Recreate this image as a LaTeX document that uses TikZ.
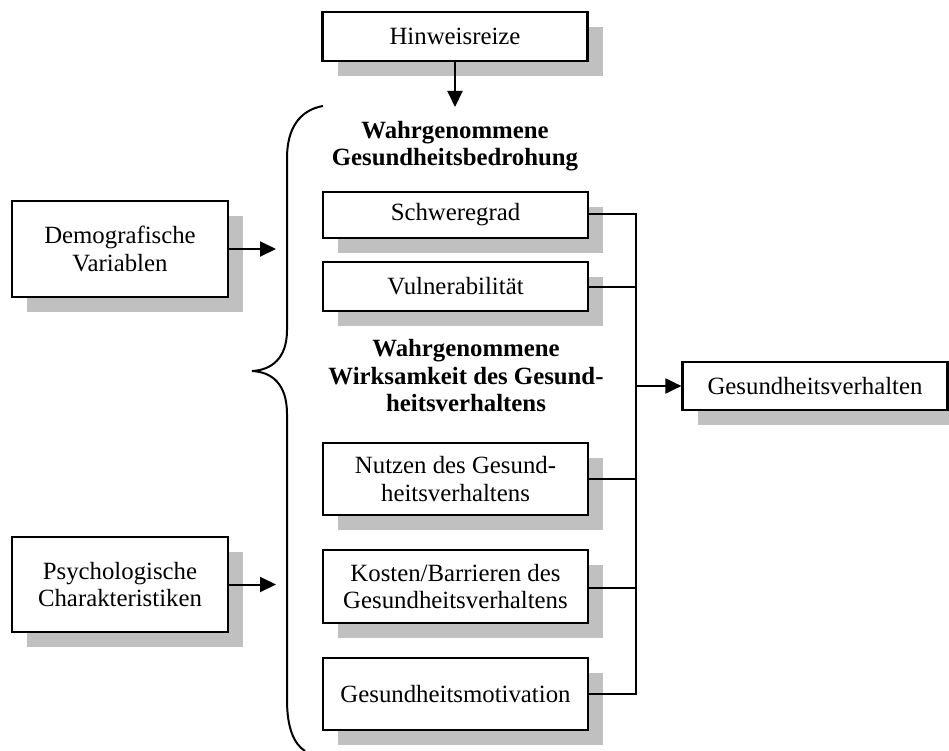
\documentclass[tikz,border=0pt]{standalone}
\usepackage{fontspec}
\setmainfont{Liberation Serif}
\usetikzlibrary{shadows,arrows.meta}
\definecolor{shadowgray}{HTML}{C0C0C0}
\begin{document}
\begin{tikzpicture}[x=1pt,y=-1pt,
  font=\fontsize{24.8}{27.5}\selectfont,
  box/.style={draw=black, line width=2.2pt, fill=white, align=center,
    inner sep=0pt, minimum width=265pt,
    drop shadow={fill=shadowgray, opacity=1, shadow xshift=15pt, shadow yshift=-15pt}},
  sidebox/.style={box, minimum width=216pt},
  title/.style={align=center, font=\fontsize{24.8}{27.5}\selectfont\bfseries},
  link/.style={line width=2pt},
  arrow/.style={link, -{Triangle[length=16pt,width=15pt]}},
  bracepath/.style={line width=2pt}]
\useasboundingbox (0,0) rectangle (949,751);

% input boxes
\node[box, minimum height=49pt] (hin) at (455,36.5) {Hinweisreize};
\node[sidebox, minimum height=96pt] (demo) at (120,249) {Demografische\\Variablen};
\node[sidebox, minimum height=95pt] (psych) at (120,584.5) {Psychologische\\Charakteristiken};

% group titles
\node[title] (t1) at (455,146) {Wahrgenommene\\Gesundheitsbedrohung};
\node[title] (t2) at (466,376) {Wahrgenommene\\Wirksamkeit des Gesund-\\heitsverhaltens};

% model components
\node[box, minimum height=46pt] (schwere) at (455.5,215) {Schweregrad};
\node[box, minimum height=49pt] (vuln) at (455.5,286.5) {Vulnerabilität};
\node[box, minimum height=72pt] (nutzen) at (455.5,479) {Nutzen des Gesund-\\heitsverhaltens};
\node[box, minimum height=73pt] (kosten) at (455.5,586.5) {Kosten/Barrieren des\\Gesundheitsverhaltens};
\node[box, minimum height=72pt] (motiv) at (455.5,694) {Gesundheitsmotivation};

% outcome
\node[box, minimum height=48pt] (verh) at (815,386) {Gesundheitsverhalten};

% curly brace grouping the components
\draw[bracepath] (323,106) .. controls (300,110) and (287,128) .. (287,158)
  -- (287,330) .. controls (287,358) and (272,370) .. (252,371)
  .. controls (272,372) and (287,384) .. (287,414)
  -- (287,700) .. controls (287,728) and (294,744) .. (305,751);

% arrows into the group
\coordinate (arrEnd) at (276,0);
\coordinate (hinEnd) at (0,107);
\draw[arrow] (hin.south) -- (hin.south |- hinEnd);
\draw[arrow] (demo.east) -- (demo.east -| arrEnd);
\draw[arrow] (psych.east) -- (psych.east -| arrEnd);

% collecting bus
\coordinate (bus) at (636,0);
\draw[link] ([yshift=1pt]schwere.east) -- ([yshift=1pt]schwere.east -| bus);
\draw[link] (vuln.east) -- (vuln.east -| bus);
\draw[link] (nutzen.east) -- (nutzen.east -| bus);
\draw[link] ([yshift=-1.5pt]kosten.east) -- ([yshift=-1.5pt]kosten.east -| bus);
\draw[link] (motiv.east) -- (motiv.east -| bus);
\draw[link] ([yshift=2pt]schwere.east -| bus) -- ([yshift=-1pt]motiv.east -| bus);
\draw[arrow] (verh.west -| bus) -- (verh.west);
\end{tikzpicture}
\end{document}
